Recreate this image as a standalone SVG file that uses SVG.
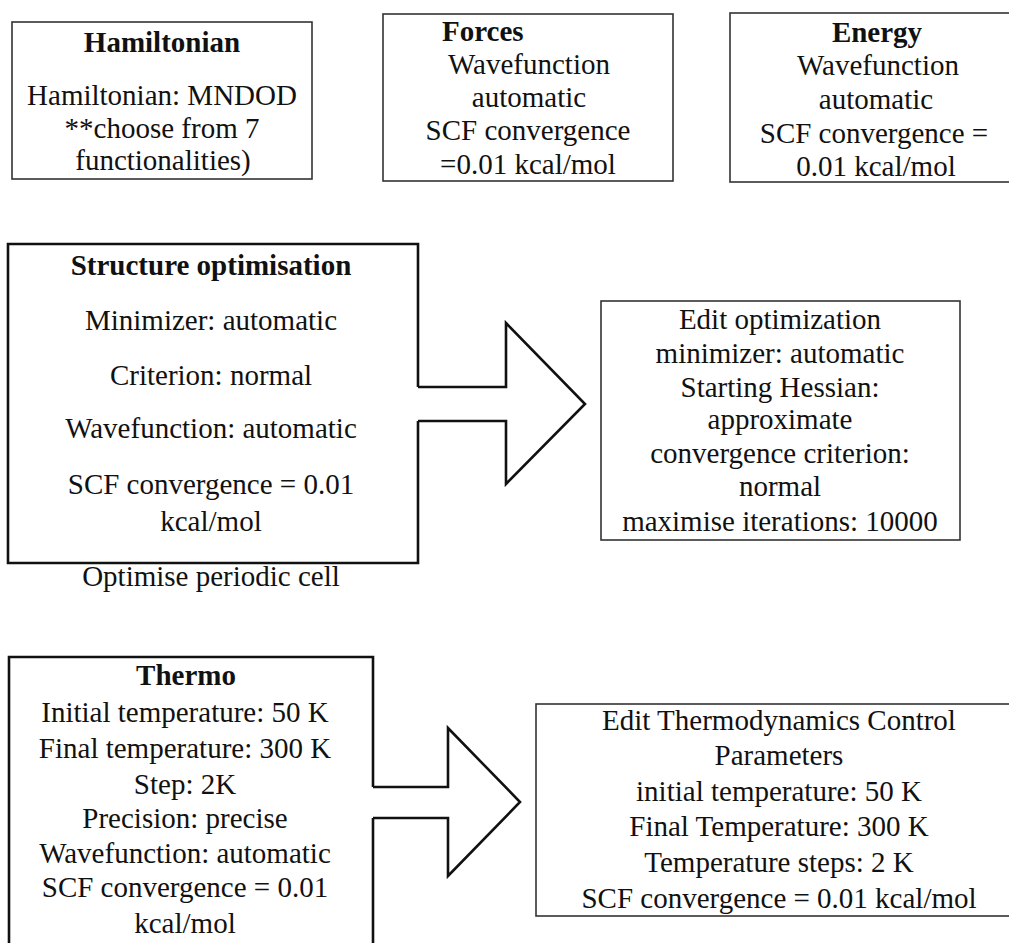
<svg xmlns="http://www.w3.org/2000/svg" width="1009" height="943" viewBox="0 0 1009 943">
  <style>
    .t { font-family: "Liberation Serif", "Times New Roman", serif; font-size: 29px; fill: #111; text-anchor: middle; }
    .b { font-weight: bold; }
    .s { text-anchor: start; }
    .thin { fill: none; stroke: #333; stroke-width: 1.6; }
    .thick { fill: none; stroke: #111; stroke-width: 2.6; stroke-linejoin: miter; }
  </style>
  <rect x="0" y="0" width="1009" height="943" fill="#fff"/>

  <!-- top row: settings boxes -->
  <g id="hamiltonian">
    <rect class="thin" x="12" y="22" width="300" height="157"/>
    <text class="t b" x="162" y="52">Hamiltonian</text>
    <text class="t" x="162" y="105">Hamiltonian: MNDOD</text>
    <text class="t" x="162" y="138">**choose from 7</text>
    <text class="t" x="163" y="170">functionalities)</text>
  </g>

  <g id="forces">
    <rect class="thin" x="383" y="14" width="290" height="167"/>
    <text class="t b s" x="442" y="41">Forces</text>
    <text class="t" x="529" y="74">Wavefunction</text>
    <text class="t" x="529" y="107">automatic</text>
    <text class="t" x="528" y="140">SCF convergence</text>
    <text class="t" x="528" y="174">=0.01 kcal/mol</text>
  </g>

  <g id="energy">
    <rect class="thin" x="730" y="13" width="292" height="169"/>
    <text class="t b" x="877" y="42">Energy</text>
    <text class="t" x="878" y="75">Wavefunction</text>
    <text class="t" x="876" y="109">automatic</text>
    <text class="t" x="874" y="143">SCF convergence =</text>
    <text class="t" x="876" y="176">0.01 kcal/mol</text>
  </g>

  <!-- middle row -->
  <g id="structure-optimisation">
    <path class="thick" d="M418,387 V244 H8 V563 H418 V421"/>
    <text class="t b" x="211" y="275">Structure optimisation</text>
    <text class="t" x="211" y="330">Minimizer: automatic</text>
    <text class="t" x="211" y="385">Criterion: normal</text>
    <text class="t" x="211" y="438">Wavefunction: automatic</text>
    <text class="t" x="211" y="494">SCF convergence = 0.01</text>
    <text class="t" x="211" y="531">kcal/mol</text>
    <text class="t" x="211" y="586">Optimise periodic cell</text>
  </g>

  <g id="edit-optimization">
    <rect class="thin" x="601" y="301" width="359" height="239"/>
    <text class="t" x="780" y="329">Edit optimization</text>
    <text class="t" x="780" y="363">minimizer: automatic</text>
    <text class="t" x="780" y="397">Starting Hessian:</text>
    <text class="t" x="780" y="429">approximate</text>
    <text class="t" x="780" y="463">convergence criterion:</text>
    <text class="t" x="780" y="496">normal</text>
    <text class="t" x="780" y="531">maximise iterations: 10000</text>
  </g>

  <!-- bottom row -->
  <g id="thermo">
    <path class="thick" d="M373,787 V657 H9 V960 M373,818 V960"/>
    <text class="t b" x="186" y="685">Thermo</text>
    <text class="t" x="185" y="722">Initial temperature: 50 K</text>
    <text class="t" x="185" y="758">Final temperature: 300 K</text>
    <text class="t" x="185" y="794">Step: 2K</text>
    <text class="t" x="185" y="828">Precision: precise</text>
    <text class="t" x="185" y="863">Wavefunction: automatic</text>
    <text class="t" x="185" y="897">SCF convergence = 0.01</text>
    <text class="t" x="185" y="933">kcal/mol</text>
  </g>

  <g id="edit-thermodynamics">
    <rect class="thin" x="536" y="704" width="490" height="212"/>
    <text class="t" x="779" y="730">Edit Thermodynamics Control</text>
    <text class="t" x="779" y="765">Parameters</text>
    <text class="t" x="779" y="801">initial temperature: 50 K</text>
    <text class="t" x="779" y="836">Final Temperature: 300 K</text>
    <text class="t" x="779" y="872">Temperature steps: 2 K</text>
    <text class="t" x="779" y="908">SCF convergence = 0.01 kcal/mol</text>
  </g>

  <!-- block arrows leading out of the left-hand boxes -->
  <g id="connectors">
    <path class="thick" d="M418,387 H506 V323 L585,404 L506,484 V421 H418"/>
    <path class="thick" d="M373,787 H448 V728 L520,802 L448,876 V818 H373"/>
  </g>
</svg>
